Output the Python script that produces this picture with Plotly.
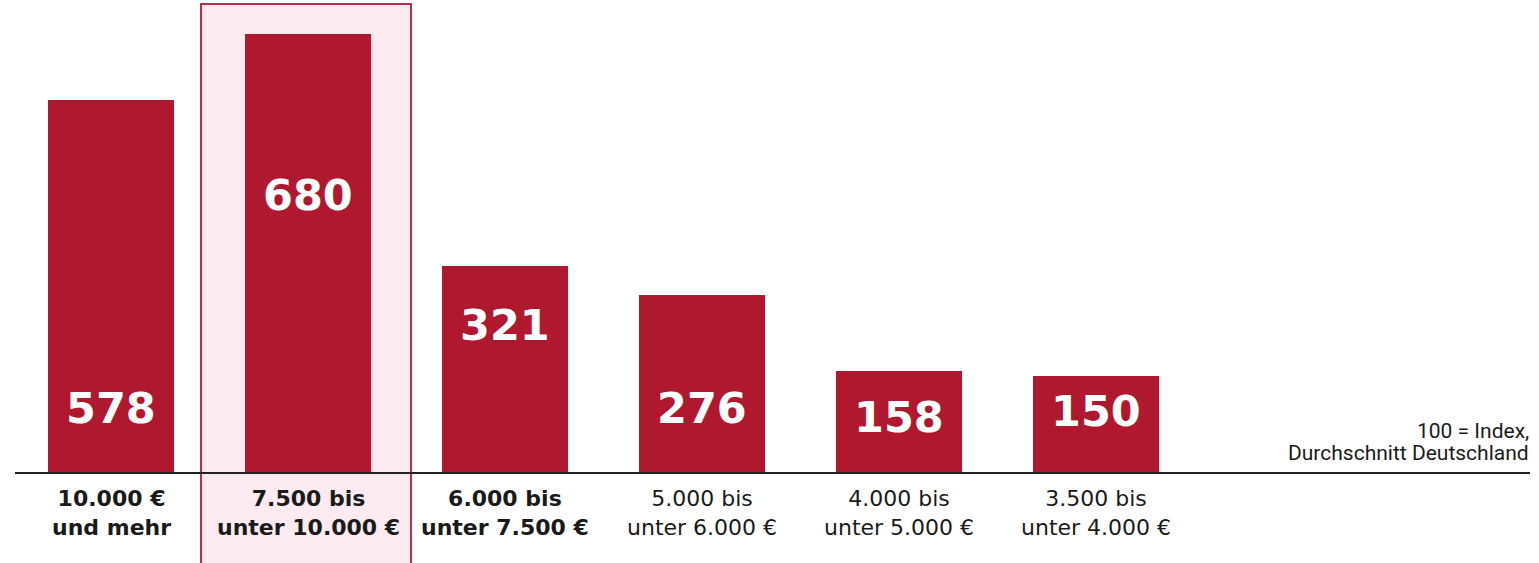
import plotly.graph_objects as go

categories = [
    "10.000 €<br>und mehr",
    "7.500 bis<br>unter 10.000 €",
    "6.000 bis<br>unter 7.500 €",
    "5.000 bis<br>unter 6.000 €",
    "4.000 bis<br>unter 5.000 €",
    "3.500 bis<br>unter 4.000 €",
]
values = [578, 680, 321, 276, 158, 150]
bold_label = [True, True, True, False, False, False]
label_y = [101, 431, 229, 101, 87, 96]  # vertical position of the value labels (data units)
note_lines = ["100 = Index,", "Durchschnitt Deutschland"]
highlight_index = 1

BAR = "#B0182F"
PX_PER_UNIT = 0.6456
W, H = 1539, 563
base_px = 473
step = 197
first_center = 111

x_idx = list(range(len(values)))
xr = [-first_center / step, (W - first_center) / step]
yr = [-(H - base_px) / PX_PER_UNIT, base_px / PX_PER_UNIT]


def py(pix):
    return (base_px - pix) / PX_PER_UNIT


fig = go.Figure()
fig.add_trace(go.Bar(
    x=x_idx, y=values, width=126 / step,
    marker=dict(color=BAR, line=dict(width=0)),
    hoverinfo="skip",
))

# highlight box
fig.add_shape(type="rect", xref="x", yref="y",
              x0=highlight_index - (308 - 201) / step, x1=highlight_index + (411 - 308) / step,
              y0=yr[0] - 20, y1=py(4),
              fillcolor="#FCEAF1", line=dict(color="#B5304F", width=2), layer="below")
# baseline
fig.add_shape(type="line", xref="paper", yref="y",
              x0=15 / W, x1=1530 / W, y0=0, y1=0,
              line=dict(color="#222222", width=2))

FONT = "DejaVu Sans"
annotations = []
for i, (v, ly) in enumerate(zip(values, label_y)):
    annotations.append(dict(
        x=i, y=ly, xref="x", yref="y", text=str(v), showarrow=False,
        font=dict(family=FONT, size=43, color="white", weight=700),
        xanchor="center", yanchor="middle"))
for i, (c, b) in enumerate(zip(categories, bold_label)):
    annotations.append(dict(
        x=i, y=py(484), xref="x", yref="y", text=c, showarrow=False,
        font=dict(family=FONT, size=22, color="#1a1a1a", weight=700 if b else 400),
        xanchor="center", yanchor="top", align="center"))
for k, line in enumerate(note_lines):
    annotations.append(dict(
        x=1531 / W, y=py(431 + 22 * k), xref="paper", yref="y",
        text=line, showarrow=False,
        font=dict(family="Roboto", size=21, color="#1a1a1a"),
        xanchor="right", yanchor="middle", align="right"))

fig.update_layout(
    width=W, height=H,
    margin=dict(l=0, r=0, t=0, b=0),
    paper_bgcolor="white", plot_bgcolor="white",
    showlegend=False,
    xaxis=dict(range=xr, visible=False, fixedrange=True),
    yaxis=dict(range=yr, visible=False, fixedrange=True),
    annotations=annotations,
    bargap=0,
)
fig.write_html("out.html", config={"displayModeBar": False})
